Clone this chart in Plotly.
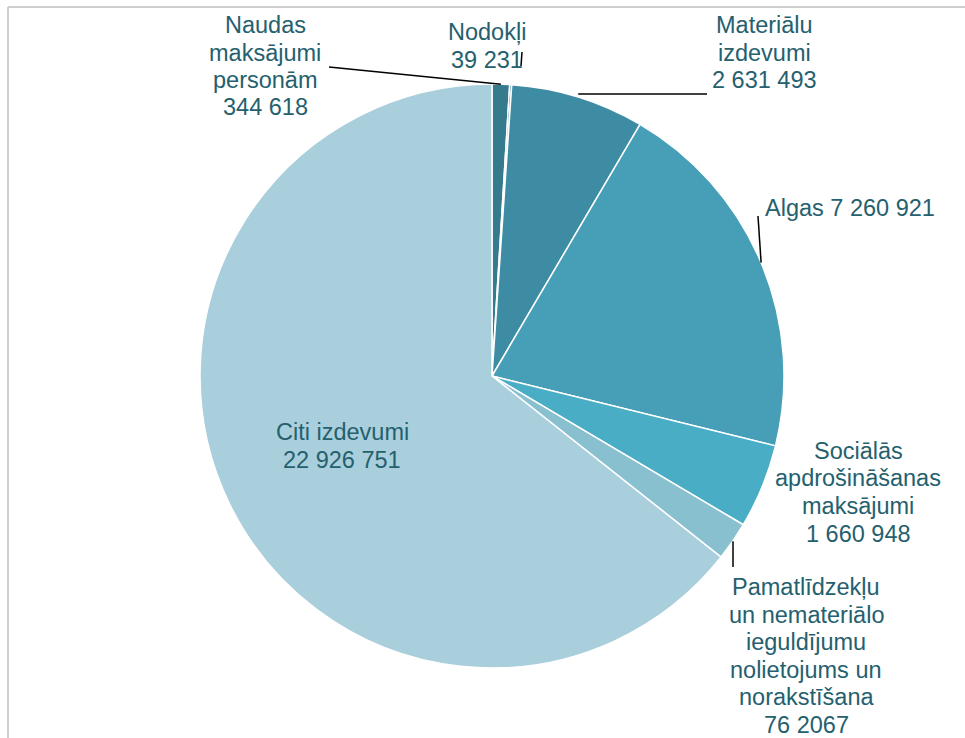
import math
import plotly.graph_objects as go

# ---- data ----
labels = ["Naudas maksājumi personām", "Nodokļi", "Materiālu izdevumi", "Algas",
          "Sociālās apdrošināšanas maksājumi",
          "Pamatlīdzekļu un nemateriālo ieguldījumu nolietojums un norakstīšana",
          "Citi izdevumi"]
values = [344618, 39231, 2631493, 7260921, 1660948, 762067, 22926751]
value_texts = ["344 618", "39 231", "2 631 493", "7 260 921", "1 660 948", "76 2067", "22 926 751"]
colors = ["#357B8D", "#2F6F80", "#3D8CA4", "#469FB7", "#4AADC6", "#88C0D0", "#A9CFDC"]

W, H = 965, 738
CX, CY, R = 492, 376, 292
TXT = "#25606E"
FONT = "Liberation Sans, Arial, sans-serif"
FS = 23.5
LS = 27.5

def px(x):
    return x / W

def py(y):
    return 1 - y / H

fig = go.Figure(go.Pie(
    labels=labels, values=values, sort=False, direction="clockwise", rotation=0,
    marker=dict(colors=colors, line=dict(color="white", width=1.5)),
    textinfo="none", hoverinfo="label+value", showlegend=False,
    domain=dict(x=[px(CX - R), px(CX + R)], y=[py(CY + R), py(CY - R)]),
))

# label text layout (lines, centre x, first line y)
label_lines = [
    (["Naudas", "maksājumi", "personām", value_texts[0]], 265, 25, "center"),
    (["Nodokļi", value_texts[1]], 487, 32, "center"),
    (["Materiālu", "izdevumi", value_texts[2]], 764, 25, "center"),
    (["Algas " + value_texts[3]], 763, 208, "left"),
    (["Sociālās", "apdrošināšanas", "maksājumi", value_texts[4]], 858, 451, "center"),
    (["Pamatlīdzekļu", "un nemateriālo", "ieguldījumu", "nolietojums un", "norakstīšana", value_texts[5]], 806, 587, "center"),
    (["Citi izdevumi", value_texts[6]], 342, 432, "center"),
]

annotations = []
for lines, x, y0, anchor in label_lines:
    for i, t in enumerate(lines):
        annotations.append(dict(
            x=px(x), y=py(y0 + i * LS), xref="paper", yref="paper", text=t,
            showarrow=False, xanchor=anchor, yanchor="middle",
            font=dict(family=FONT, size=FS, color=TXT),
        ))

# leader lines: from label side to slice mid-angle on the rim
total = sum(values)
mids = []
acc = 0
for v in values:
    mids.append((acc + v / 2) / total * 2 * math.pi)
    acc += v

def rim(i, r=R):
    a = mids[i]
    return CX + r * math.sin(a), CY - r * math.cos(a)

shapes = []
leaders = {0: (329, 67), 2: (707, 94), 3: (758, 216), 5: (733, 567)}
for i, (lx, ly) in leaders.items():
    ex, ey = rim(i)
    if i == 2:
        ey = ly
    if i == 5:
        ex = lx
    shapes.append(dict(type="line", xref="paper", yref="paper",
                       x0=px(lx), y0=py(ly), x1=px(ex), y1=py(ey),
                       line=dict(color="black", width=1.5)))
# short Nodokļi marker
shapes.append(dict(type="line", xref="paper", yref="paper",
                   x0=px(522), y0=py(52), x1=px(521), y1=py(66),
                   line=dict(color="black", width=1.5)))
# chart area border
shapes.append(dict(type="line", xref="paper", yref="paper", x0=px(8), y0=py(7), x1=1.01, y1=py(7),
                   line=dict(color="#BFBFBF", width=1.5)))
shapes.append(dict(type="line", xref="paper", yref="paper", x0=px(8), y0=py(7), x1=px(8), y1=-0.01,
                   line=dict(color="#BFBFBF", width=1.5)))

fig.update_layout(
    width=W, height=H, margin=dict(l=0, r=0, t=0, b=0),
    paper_bgcolor="white", plot_bgcolor="white",
    annotations=annotations, shapes=shapes,
)

fig.write_html("out.html", config={"displayModeBar": False},
               post_script="document.body.style.margin='0';document.body.style.overflow='hidden';")
